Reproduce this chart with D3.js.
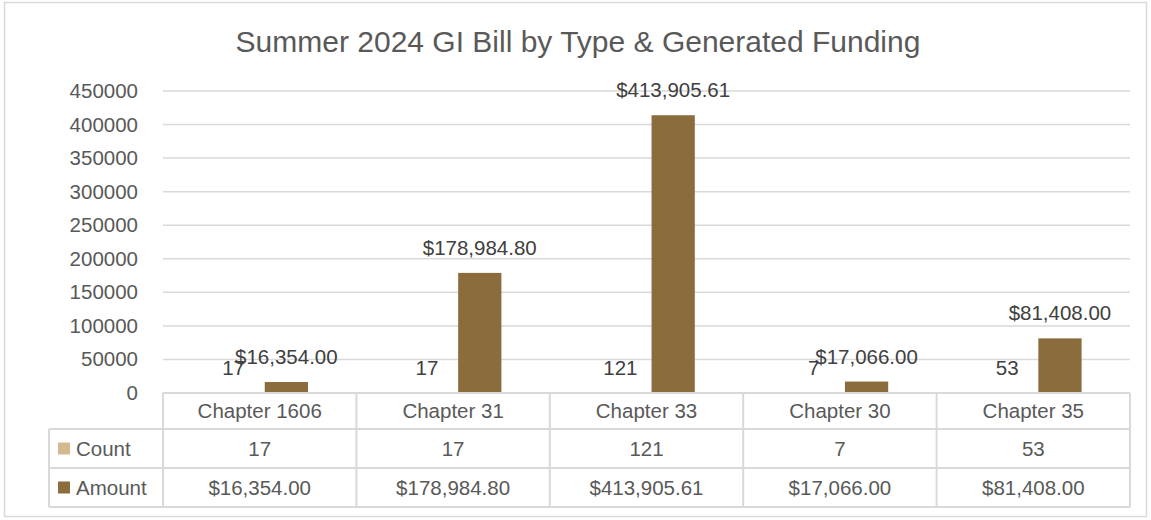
<!DOCTYPE html>
<html>
<head>
<meta charset="utf-8">
<script src="https://cdn.jsdelivr.net/npm/d3@7"></script>
<style>
  body { margin: 0; background: #fff; }
  text { font-family: "Liberation Sans", Arial, sans-serif; fill: #595959; }
</style>
</head>
<body>
<svg id="chart" width="1151" height="520"></svg>
<script>
// data
const categories = ["Chapter 1606", "Chapter 31", "Chapter 33", "Chapter 30", "Chapter 35"];
const counts = [17, 17, 121, 7, 53];
const amounts = [16354.00, 178984.80, 413905.61, 17066.00, 81408.00];
const seriesNames = ["Count", "Amount"];
const yTicks = [0, 50000, 100000, 150000, 200000, 250000, 300000, 350000, 400000, 450000];
const title = "Summer 2024 GI Bill by Type & Generated Funding";

const colors = { Count: "#D3BA90", Amount: "#8B6D3D" };
const gridColor = "#D9D9D9";

const svg = d3.select("#chart");
const plotLeft = 163, plotRight = 1130, plotTop = 91, zeroY = 393;
const tableLeft = 49;
const rowBottoms = [429, 468, 507];

// frame
svg.append("rect")
    .attr("x", 4.5).attr("y", 2.5)
    .attr("width", 1142).attr("height", 514)
    .attr("fill", "#fff")
    .attr("stroke", gridColor)
    .attr("stroke-width", 1.5);

svg.append("text")
    .attr("x", 578).attr("y", 52)
    .attr("text-anchor", "middle")
    .style("font-size", "30px")
    .text(title);

let x = d3.scaleBand().domain(categories).range([plotLeft, plotRight]);
let y = d3.scaleLinear().domain([0, 450000]).range([zeroY, plotTop]);
let sub = d3.scaleBand().domain(seriesNames)
    .range([49, 145]).paddingInner(0.18).paddingOuter(0);

// gridlines
svg.selectAll(".grid")
    .data(yTicks.filter(d => d > 0))
    .join("line")
    .classed("grid", true)
    .attr("x1", plotLeft).attr("x2", plotRight)
    .attr("y1", d => y(d)).attr("y2", d => y(d))
    .style("stroke", gridColor)
    .style("stroke-width", 1.5);

// y tick labels
svg.selectAll(".ytick")
    .data(yTicks)
    .join("text")
    .classed("ytick", true)
    .attr("x", 138)
    .attr("y", d => y(d) + 7)
    .attr("text-anchor", "end")
    .style("font-size", "20.5px")
    .text(d => d);

// bars
let rows = categories.map((c, i) => ({ cat: c, Count: counts[i], Amount: amounts[i] }));
let fmtMoney = d3.format("$,.2f");

seriesNames.forEach(s => {
    svg.selectAll(".bar-" + s)
        .data(rows)
        .join("rect")
        .attr("class", "bar-" + s)
        .attr("x", d => x(d.cat) + sub(s))
        .attr("width", sub.bandwidth())
        .attr("y", d => y(d[s]))
        .attr("height", d => zeroY - y(d[s]))
        .style("fill", colors[s]);

    // labels overlap on the short bars, same as the source chart
    svg.selectAll(".lbl-" + s)
        .data(rows)
        .join("text")
        .attr("class", "lbl-" + s)
        .attr("x", d => x(d.cat) + sub(s) + sub.bandwidth() / 2)
        .attr("y", d => y(d[s]) - 18)
        .attr("text-anchor", "middle")
        .style("font-size", "20.5px")
        .style("fill", "#404040")
        .text(d => s == "Amount" ? fmtMoney(d[s]) : d[s]);
});

// data table
let lines = [];
lines.push([plotLeft, zeroY, plotRight, zeroY]);
rowBottoms.forEach(yy => lines.push([tableLeft, yy, plotRight, yy]));
lines.push([tableLeft, rowBottoms[0], tableLeft, rowBottoms[2]]);
categories.forEach(c => lines.push([x(c), zeroY, x(c), rowBottoms[2]]));
lines.push([plotRight, zeroY, plotRight, rowBottoms[2]]);

svg.selectAll(".tline")
    .data(lines)
    .join("line")
    .classed("tline", true)
    .attr("x1", d => d[0]).attr("y1", d => d[1])
    .attr("x2", d => d[2]).attr("y2", d => d[3])
    .style("stroke", gridColor)
    .style("stroke-width", 2);

let rowCenters = [(zeroY + rowBottoms[0]) / 2, (rowBottoms[0] + rowBottoms[1]) / 2, (rowBottoms[1] + rowBottoms[2]) / 2];

svg.selectAll(".cathdr")
    .data(categories)
    .join("text")
    .classed("cathdr", true)
    .attr("x", d => x(d) + x.bandwidth() / 2)
    .attr("y", rowCenters[0] + 7)
    .attr("text-anchor", "middle")
    .style("font-size", "20.5px")
    .text(d => d);

seriesNames.forEach((s, si) => {
    let cy = rowCenters[si + 1];
    svg.append("rect")
        .attr("x", 58).attr("y", cy - 6)
        .attr("width", 12).attr("height", 12)
        .style("fill", colors[s]);
    svg.append("text")
        .attr("x", 76).attr("y", cy + 7)
        .style("font-size", "20.5px")
        .text(s);
    svg.selectAll(".cell-" + s)
        .data(rows)
        .join("text")
        .attr("class", "cell-" + s)
        .attr("x", d => x(d.cat) + x.bandwidth() / 2)
        .attr("y", cy + 7)
        .attr("text-anchor", "middle")
        .style("font-size", "20.5px")
        .text(d => s == "Amount" ? fmtMoney(d[s]) : d[s]);
});
</script>
</body>
</html>
